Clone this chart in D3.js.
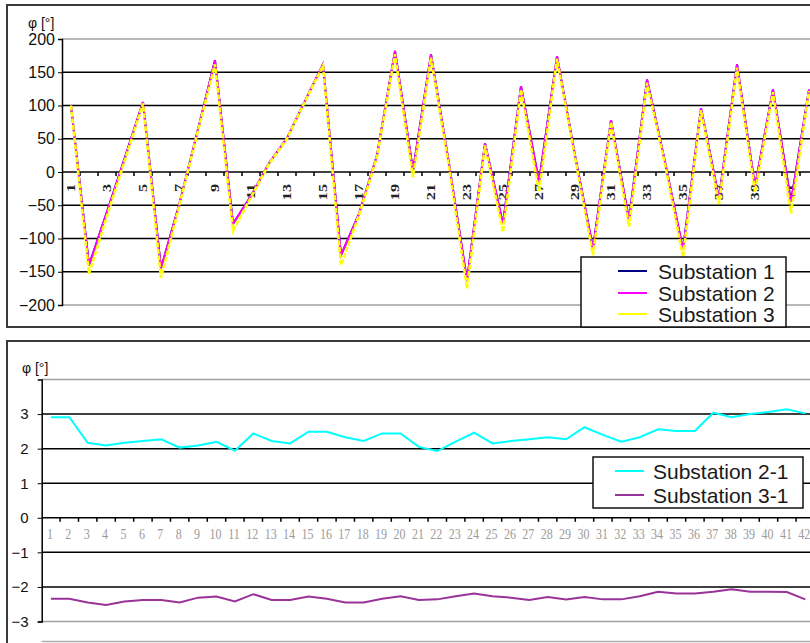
<!DOCTYPE html>
<html>
<head>
<meta charset="utf-8">
<script src="https://cdn.jsdelivr.net/npm/d3@7"></script>
<style>
  body { margin: 0; background: #fff; overflow: hidden; }
  svg { display: block; font-family: "Liberation Sans", Arial, sans-serif; }
</style>
</head>
<body>
<script>
// measurement points (x axis categories)
var categories = [1, 2, 3, 4, 5, 6, 7, 8, 9, 10, 11, 12, 13, 14, 15, 16, 17, 18, 19, 20, 21,
  22, 23, 24, 25, 26, 27, 28, 29, 30, 31, 32, 33, 34, 35, 36, 37, 38, 39, 40, 41, 42];

// top chart: phase angle per substation
var sub1 = [100, -140, -60, 22, 105, -145, -50, 58, 168, -78, -36, 13, 51, 107, 162, -125, -63, 25, 182, 2, 177,
  12, -163, 43, -78, 129, -15, 174, 25, -115, 78, -72, 139, 15, -117, 96, -40, 162, -22, 124, -45, 124];
var sub2 = [100, -140, -60, 22, 105, -145, -50, 58, 168, -78, -36, 13, 51, 107, 162, -125, -63, 25, 182, 2, 177,
  12, -163, 43, -78, 129, -15, 174, 25, -115, 78, -72, 139, 15, -117, 96, -40, 162, -22, 124, -45, 124];
var sub3 = [100, -153, -66, 18, 103, -159, -52, 56, 162, -88, -38, 12, 50, 106, 160, -140, -65, 23, 177, -8, 172,
  8, -175, 40, -90, 124, -30, 170, 22, -125, 75, -82, 134, 12, -128, 93, -48, 157, -30, 120, -62, 122];
var topTicks = [-200, -150, -100, -50, 0, 50, 100, 150, 200];
var topXLabels = [1, 3, 5, 7, 9, 11, 13, 15, 17, 19, 21, 23, 25, 27, 29, 31, 33, 35, 37, 39, 41];
var topNames = ["Substation 1", "Substation 2", "Substation 3"];
var topColors = ["#000080", "#ff00ff", "#ffff00"];

// bottom chart: differences between substations
var diff21 = [2.91, 2.91, 2.17, 2.09, 2.17, 2.22, 2.27, 2.03, 2.09, 2.2, 1.94, 2.44, 2.22, 2.15, 2.49, 2.49, 2.33, 2.22, 2.44, 2.44, 2.05,
  1.93, 2.2, 2.46, 2.15, 2.22, 2.27, 2.33, 2.27, 2.62, 2.4, 2.2, 2.33, 2.56, 2.51, 2.51, 3.04, 2.91, 3.0, 3.06, 3.14, 3.02];
var diff31 = [-2.34, -2.34, -2.45, -2.52, -2.42, -2.38, -2.38, -2.45, -2.31, -2.28, -2.42, -2.21, -2.38, -2.38, -2.28, -2.34, -2.45, -2.45, -2.34, -2.27, -2.38,
  -2.36, -2.27, -2.19, -2.27, -2.31, -2.38, -2.29, -2.36, -2.29, -2.36, -2.36, -2.27, -2.14, -2.19, -2.19, -2.14, -2.07, -2.14, -2.14, -2.15, -2.36];
var bottomTicks = [-3, -2, -1, 0, 1, 2, 3];
var bottomNames = ["Substation 2-1", "Substation 3-1"];
var bottomColors = ["#00ffff", "#993399"];

var svg = d3.select("body").append("svg")
  .attr("width", 810)
  .attr("height", 643);

function drawFrame(y, h) {
  svg.append("rect")
    .attr("x", 7).attr("y", y)
    .attr("width", 840).attr("height", h)
    .attr("fill", "#fff")
    .attr("stroke", "#3a3a3a")
    .attr("stroke-width", 2);
}

// legend box; sample line and text offsets measured from the box's left edge
function drawLegend(x, y, w, h, names, colors, rowY, lineX, textX) {
  var g = svg.append("g");
  g.append("rect")
    .attr("x", x).attr("y", y).attr("width", w).attr("height", h)
    .attr("fill", "#fff").attr("stroke", "#111").attr("stroke-width", 1.5);
  names.forEach(function (name, i) {
    g.append("line")
      .attr("x1", x + lineX).attr("x2", x + lineX + 29)
      .attr("y1", rowY[i]).attr("y2", rowY[i])
      .attr("stroke", colors[i]).attr("stroke-width", 2);
    g.append("text")
      .attr("x", x + textX).attr("y", rowY[i])
      .attr("dy", "0.36em")
      .attr("font-size", 21)
      .attr("fill", "#1a1a1a")
      .text(name);
  });
}

// ---------- top chart ----------
drawFrame(5, 322);

var x1 = d3.scaleBand().domain(categories).range([62, 62 + 18 * categories.length]);
var y1 = d3.scaleLinear().domain([-200, 200]).range([305, 39]);

var topG = svg.append("g");

topG.selectAll("line.grid").data(topTicks).enter().append("line")
  .attr("x1", 62).attr("x2", 840)
  .attr("y1", function (d) { return y1(d); })
  .attr("y2", function (d) { return y1(d); })
  .attr("stroke", function (d) { return Math.abs(d) === 200 ? "#a0a0a0" : "#000"; })
  .attr("stroke-width", 1.5);

var yAxis1 = d3.axisLeft(y1).tickValues(topTicks).tickSize(4).tickPadding(3);
topG.append("g")
  .attr("transform", "translate(62,0)")
  .call(yAxis1)
  .call(function (g) {
    g.select(".domain").attr("stroke", "#000").attr("stroke-width", 1.5);
    g.selectAll("text").attr("font-size", 16).attr("font-family", "Liberation Sans, Arial").attr("fill", "#111");
  });

// x axis on the zero line, ticks between the categories
var xTicks1 = d3.range(1, categories.length + 1).map(function (i) { return 62 + 18 * i; });
topG.selectAll("line.xt").data(xTicks1).enter().append("line")
  .attr("x1", function (d) { return d; }).attr("x2", function (d) { return d; })
  .attr("y1", y1(0)).attr("y2", y1(0) + 4)
  .attr("stroke", "#000").attr("stroke-width", 1.5);

topG.selectAll("text.xl").data(topXLabels).enter().append("text")
  .attr("transform", function (d) {
    return "translate(" + (x1(d) + x1.bandwidth() / 2 + 4) + "," + 184 + ") rotate(-90) scale(1.35,1)";
  })
  .attr("text-anchor", "end")
  .attr("font-family", "Liberation Serif, Times New Roman, serif")
  .attr("font-size", 12)
  .attr("font-weight", "bold")
  .attr("fill", "#222")
  .text(function (d) { return d; });

topG.append("text")
  .attr("x", 28).attr("y", 28)
  .attr("font-size", 14)
  .attr("fill", "#111")
  .text("φ [°]");

var line1 = d3.line()
  .x(function (d, i) { return x1(categories[i]) + x1.bandwidth() / 2; })
  .y(function (d) { return y1(d); });

topG.append("path").datum(sub1).attr("d", line1)
  .attr("fill", "none").attr("stroke", topColors[0]).attr("stroke-width", 2);
topG.append("path").datum(sub2).attr("d", line1)
  .attr("fill", "none").attr("stroke", topColors[1]).attr("stroke-width", 2);
topG.append("path").datum(sub3).attr("d", line1)
  .attr("fill", "none").attr("stroke", topColors[2]).attr("stroke-width", 2.6)
  .attr("stroke-dasharray", "5,1.5");

drawLegend(581, 257, 205, 70, topNames, topColors, [271, 293, 314], 37, 77);

// ---------- bottom chart ----------
drawFrame(341, 330);

var x2 = d3.scaleBand().domain(categories).range([41.7, 41.7 + 18.4 * categories.length]);
var y2 = d3.scaleLinear().domain([-3, 4]).range([621.5, 379.5]);

var botG = svg.append("g");

botG.selectAll("line.grid").data([-3, -2, -1, 0, 1, 2, 3, 4]).enter().append("line")
  .attr("x1", 41.7).attr("x2", 840)
  .attr("y1", function (d) { return y2(d); })
  .attr("y2", function (d) { return y2(d); })
  .attr("stroke", function (d) { return (d === 4 || d === -3) ? "#a0a0a0" : "#000"; })
  .attr("stroke-width", 1.5);

botG.append("line")
  .attr("x1", 41.7).attr("x2", 840)
  .attr("y1", 641.5).attr("y2", 641.5)
  .attr("stroke", "#b0b0b0").attr("stroke-width", 1.5);

var yAxis2 = d3.axisLeft(y2).tickValues(bottomTicks).tickFormat(d3.format("d")).tickSize(4).tickPadding(9);
botG.append("g")
  .attr("transform", "translate(41.7,0)")
  .call(yAxis2)
  .call(function (g) {
    g.select(".domain").attr("stroke", "#000").attr("stroke-width", 1.5);
    g.selectAll("text").attr("font-size", 15).attr("font-family", "Liberation Sans, Arial").attr("fill", "#111");
  });

var xTicks2 = d3.range(1, categories.length + 1).map(function (i) { return 41.7 + 18.4 * i; });
botG.selectAll("line.xt").data(xTicks2).enter().append("line")
  .attr("x1", function (d) { return d; }).attr("x2", function (d) { return d; })
  .attr("y1", y2(0)).attr("y2", y2(0) + 4)
  .attr("stroke", "#000").attr("stroke-width", 1.5);

botG.selectAll("text.xl").data(categories).enter().append("text")
  .attr("transform", function (d) {
    return "translate(" + (x2(d) + x2.bandwidth() / 2 - 1) + "," + 539 + ") scale(1,1.2)";
  })
  .attr("text-anchor", "middle")
  .attr("font-family", "Liberation Serif, Times New Roman, serif")
  .attr("font-size", 12)
  .attr("fill", "#9a9a9a")
  .text(function (d) { return d; });

botG.append("text")
  .attr("x", 22).attr("y", 373)
  .attr("font-size", 14)
  .attr("fill", "#111")
  .text("φ [°]");

var line2 = d3.line()
  .x(function (d, i) { return x2(categories[i]) + x2.bandwidth() / 2; })
  .y(function (d) { return y2(d); });

botG.append("path").datum(diff21).attr("d", line2)
  .attr("fill", "none").attr("stroke", bottomColors[0]).attr("stroke-width", 2);
botG.append("path").datum(diff31).attr("d", line2)
  .attr("fill", "none").attr("stroke", bottomColors[1]).attr("stroke-width", 2);

drawLegend(593, 457, 210, 51, bottomNames, bottomColors, [471, 495], 22, 60);
</script>
</body>
</html>
